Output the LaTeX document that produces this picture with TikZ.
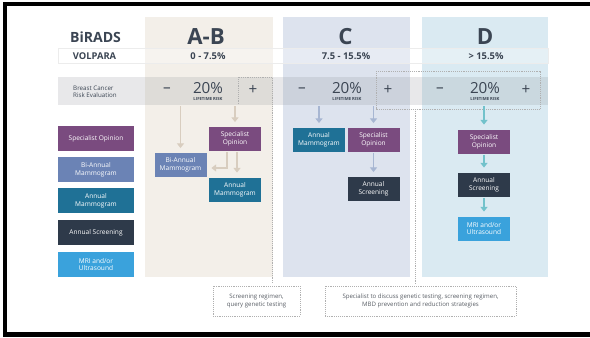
\documentclass[tikz,border=0pt]{standalone}
\usepackage{fontspec}
\setmainfont{Open Sans}
\usetikzlibrary{arrows.meta}

\definecolor{txtdark}{HTML}{3B4553}
\definecolor{notegray}{HTML}{5A5F66}
\definecolor{colAB}{HTML}{F3EFE9}
\definecolor{colC}{HTML}{DDE3EE}
\definecolor{colD}{HTML}{DAEAF2}
\definecolor{spec}{HTML}{7A4B7F}
\definecolor{biann}{HTML}{6B83B5}
\definecolor{annmam}{HTML}{1F7196}
\definecolor{annscr}{HTML}{2E3A4A}
\definecolor{mri}{HTML}{3AA2DC}
\definecolor{arrAB}{HTML}{D8CDBF}
\definecolor{arrC}{HTML}{A7B6D2}
\definecolor{arrD}{HTML}{72C2CB}
\definecolor{dotgray}{HTML}{B0B0B0}
\definecolor{bandgray}{HTML}{8C9096}

\begin{document}
\begin{tikzpicture}[x=0.03cm,y=-0.03cm,
    every node/.style={inner sep=0pt, text=txtdark},
    box/.style={minimum width=1.56cm, minimum height=0.72cm, text=white,
      align=center, font=\fontsize{5.6}{6.7}\selectfont},
    legend/.style={box, minimum width=2.28cm, minimum height=0.75cm},
    head/.style={font=\bfseries\fontsize{19}{19}\selectfont},
    rangetext/.style={font=\bfseries\fontsize{8}{8}\selectfont},
    sign/.style={font=\fontsize{13}{13}\selectfont},
    pct/.style={font=\fontsize{13}{13}\selectfont},
    lifetime/.style={font=\bfseries\fontsize{3.6}{3.6}\selectfont},
    notebox/.style={draw=dotgray, dash pattern=on 0.6pt off 1pt, line width=0.6pt,
      minimum height=0.9cm, align=center, text=notegray,
      font=\fontsize{5.2}{6.7}\selectfont},
    dotline/.style={draw=dotgray, dash pattern=on 0.6pt off 1pt, line width=0.6pt},
    flow/.style={line width=1.4pt, -{Triangle[width=6pt,length=4pt]},
      shorten >=4pt, shorten <=1pt},
    flowAB/.style={flow, draw=arrAB},
    flowC/.style={flow, draw=arrC},
    flowD/.style={flow, draw=arrD}]

    % page and frame
    \fill[white] (0,0) rectangle (590,337);
    \fill[black] (3,2) rectangle (590,6);
    \fill[black] (3,2) rectangle (7,337);
    \fill[black] (3,332) rectangle (590,337);

    % column backgrounds
    \fill[colAB] (145,17) rectangle (273,277);
    \fill[colC] (283,17) rectangle (410,277);
    \fill[colD] (422,17) rectangle (548,277);

    % volpara row and risk band
    \draw[draw=gray!15, fill=white, fill opacity=0.3] (58,48) rectangle (548,63);
    \node[fill=bandgray, fill opacity=0.2, minimum width=14.7cm,
      minimum height=0.84cm] (band) at (303,91) {};

    % dotted frames
    \draw[dotline] (238,104) -- (238,77) -- (272,77) -- (272,284);
    \draw[dotline] (376,71) rectangle (540,109);
    \draw[dotline] (415,109) -- (415,284);

    % headings
    \node[font=\bfseries\fontsize{12}{12}\selectfont] (birads) at (95.5,37) {BiRADS};
    \node[head] (hAB) at (206,37) {A-B};
    \node[head] (hC) at (345.5,37) {C};
    \node[head] (hD) at (485,37) {D};
    \node[rangetext] (volpara) at (94.5,56) {VOLPARA};
    \node[rangetext] (vAB) at (208,56) {0 - 7.5\%};
    \node[rangetext] (vC) at (346,56) {7.5 - 15.5\%};
    \node[rangetext] (vD) at (486,56) {> 15.5\%};

    % risk evaluation row
    \node[anchor=west, align=left, font=\fontsize{5.3}{6.2}\selectfont]
      (riskev) at (73,91.5) {Breast Cancer\\Risk Evaluation};
    \foreach \m/\c/\p/\n in {167/208/253/AB, 302/347/388/C, 440/485/526/D} {
      \node[sign] (minus\n) at (\m,90) {–};
      \node[pct] (pct\n) at (\c,88.5) {20\%};
      \node[lifetime] (life\n) at (\c,99) {LIFETIME RISK};
      \node[sign] (plus\n) at (\p,90) {+};
    }

    % legend
    \node[legend, fill=spec] (legspec) at (96,138.5) {Specialist Opinion};
    \node[legend, fill=biann] (legbia) at (96,169.5) {Bi-Annual\\Mammogram};
    \node[legend, fill=annmam] (legam) at (96,200.5) {Annual\\Mammogram};
    \node[legend, fill=annscr] (legas) at (96,232.5) {Annual Screening};
    \node[legend, fill=mri] (legmri) at (96,264.5) {MRI and/or\\Ultrasound};

    % A-B
    \node[box, fill=spec] (spAB) at (235,139) {Specialist\\Opinion};
    \node[box, fill=biann] (biaAB) at (180.5,165) {Bi-Annual\\Mammogram};
    \node[box, fill=annmam] (amAB) at (235,189.5) {Annual\\Mammogram};
    \draw[flowAB] (band.south -| biaAB.north) -- (biaAB.north);
    \draw[flowAB] (band.south -| spAB.north) -- (spAB.north);
    \draw[flowAB] ([xshift=-0.24cm]spAB.south) |- ([yshift=-0.09cm]biaAB.east);
    \draw[flowAB] ([xshift=0.06cm]spAB.south) -- ([xshift=0.06cm]amAB.north);

    % C
    \node[box, fill=annmam] (amC) at (319,140) {Annual\\Mammogram};
    \node[box, fill=spec] (spC) at (373.5,140) {Specialist\\Opinion};
    \node[box, fill=annscr] (asC) at (373.5,189) {Annual\\Screening};
    \draw[flowC] (band.south -| amC.north) -- (amC.north);
    \draw[flowC] (band.south -| spC.north) -- (spC.north);
    \draw[flowC] (spC.south) -- (asC.north);

    % D
    \node[box, fill=spec] (spD) at (484,141.5) {Specialist\\Opinion};
    \node[box, fill=annscr] (asD) at (484,184.5) {Annual\\Screening};
    \node[box, fill=mri] (mriD) at (484,228.5) {MRI and/or\\Ultrasound};
    \draw[flowD] (band.south -| spD.north) -- (spD.north);
    \draw[flowD] (spD.south) -- (asD.north);
    \draw[flowD] (asD.south) -- (mriD.north);

    % notes
    \node[notebox, minimum width=2.61cm] (noteAB) at (256.5,301)
      {Screening regimen,\\query genetic testing};
    \node[notebox, minimum width=5.73cm] (noteCD) at (420.5,301)
      {Specialist to discuss genetic testing, screening regimen,\\MBD prevention and reduction strategies};
\end{tikzpicture}
\end{document}
